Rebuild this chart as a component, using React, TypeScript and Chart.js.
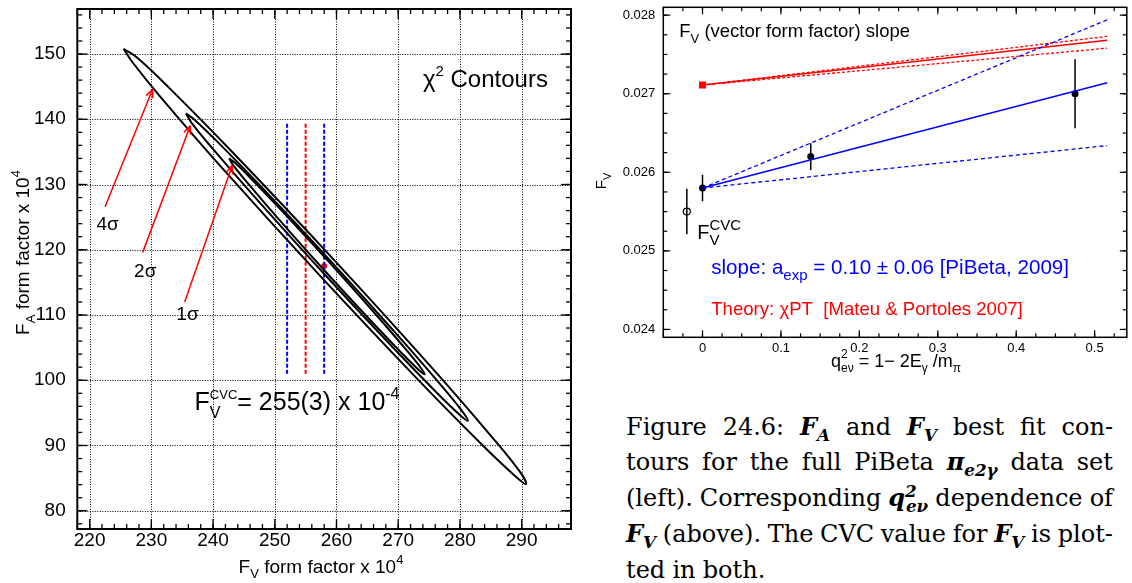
import React, { useEffect, useRef } from "react";
import { Chart, registerables } from "chart.js";
Chart.register(...registerables);

const SANS = '"Liberation Sans", Arial, Helvetica, sans-serif';
const BLUE = "#0000ff";
const RED = "#ff0000";

// ---------------- Left chart: chi^2 contours ----------------
const FV_TICKS = [220, 230, 240, 250, 260, 270, 280, 290];
const FA_TICKS = [80, 90, 100, 110, 120, 130, 140, 150];

// contour outlines [F_V, F_A] (x 10^4)
const CONTOUR_4SIGMA: number[][] = [
  [225.5, 150.8], [227.72, 149.42], [232.97, 144.73], [243.07, 135.02], [259.55, 118.49],
  [275.69, 101.67], [285.13, 91.37], [289.66, 86.06], [290.7, 84.1], [288.88, 85.38],
  [283.63, 90.07], [273.52, 99.78], [257.05, 116.31], [240.9, 133.13], [231.47, 143.43],
  [226.94, 148.74], [225.5, 150.8],
];
const CONTOUR_2SIGMA: number[][] = [
  [235.6, 140.9], [236.99, 139.94], [240.65, 136.61], [247.72, 129.73], [259.25, 118.05],
  [270.57, 106.18], [277.21, 98.93], [280.41, 95.2], [281.3, 93.8], [279.91, 94.76],
  [276.25, 98.09], [269.19, 104.98], [257.65, 116.66], [246.34, 128.53], [239.69, 135.77],
  [236.49, 139.5], [235.6, 140.9],
];
const CONTOUR_1SIGMA: number[][] = [
  [242.6, 134.0], [243.56, 133.32], [246.09, 130.97], [251.0, 126.13], [258.99, 117.92],
  [266.84, 109.58], [271.45, 104.49], [273.68, 101.88], [274.3, 100.9], [273.34, 101.58],
  [270.81, 103.93], [265.91, 108.77], [257.91, 116.98], [250.06, 125.32], [245.45, 130.41],
  [243.22, 133.02], [242.6, 134.0],
];
const BEST_FIT = [258.0, 117.5];
const CVC_FV = [252, 255, 258]; // lower, central, upper
const CVC_FA_SPAN = [101, 139.3];
const ARROW_TAILS = [[222.5, 126.6], [228.6, 119.6], [235.4, 112.0]];
const ARROW_HEADS = [[230.2, 144.6], [236.3, 139.0], [243.1, 132.9]];
const ARROW_LABELS = ["4σ", "2σ", "1σ"];

// ---------------- Right chart: F_V slope ----------------
const Q2_TICKS = [0, 0.1, 0.2, 0.3, 0.4, 0.5];
const FVR_TICKS = [0.024, 0.025, 0.026, 0.027, 0.028];
const Q2_DATA = [0, 0.138, 0.475];
const FV_DATA = [0.0258, 0.0262, 0.027];
const FV_ERR = [0.00017, 0.00017, 0.00044];
const CVC_Q2 = [-0.02];
const CVC_VAL = [0.0255];
const CVC_ERR = [0.00029];
const THEORY_Q2 = [0];
const THEORY_VAL = [0.02711];
const FIT_Q2 = [0, 0.516];
const FIT_CENTRAL = [0.0258, 0.02714];
const FIT_UPPER = [0.0258, 0.02794];
const FIT_LOWER = [0.0258, 0.02634];
const TH_CENTRAL = [0.02711, 0.02768];
const TH_UPPER = [0.02711, 0.02773];
const TH_LOWER = [0.02711, 0.02758];

// ---------------- helpers ----------------
type Seg = { t?: string; sub?: string; sup?: string; ss?: number; ps?: number };

function drawRich(ctx: any, segs: Seg[], x: number, y: number, size: number, color: string, align: "left" | "center" = "left") {
  const f = (s: number) => `${s}px ${SANS}`;
  const dims = segs.map((sg) => {
    ctx.font = f(size);
    const wt = sg.t ? ctx.measureText(sg.t).width : 0;
    const ss = sg.ss ?? size * 0.65;
    const ps = sg.ps ?? size * 0.65;
    ctx.font = f(ss);
    const wsub = sg.sub ? ctx.measureText(sg.sub).width : 0;
    ctx.font = f(ps);
    const wsup = sg.sup ? ctx.measureText(sg.sup).width : 0;
    return { wt, w: wt + Math.max(wsub, wsup), ss, ps };
  });
  const total = dims.reduce((a, d) => a + d.w, 0);
  let cx = align === "center" ? x - total / 2 : x;
  ctx.fillStyle = color;
  ctx.textAlign = "left";
  ctx.textBaseline = "alphabetic";
  segs.forEach((sg, i) => {
    const d = dims[i];
    if (sg.t) { ctx.font = f(size); ctx.fillText(sg.t, cx, y); }
    if (sg.sub) { ctx.font = f(d.ss); ctx.fillText(sg.sub, cx + d.wt, y + size * 0.3); }
    if (sg.sup) { ctx.font = f(d.ps); ctx.fillText(sg.sup, cx + d.wt, y - size * 0.47); }
    cx += d.w;
  });
}

function minorValues(min: number, max: number, step: number) {
  const out: number[] = [];
  for (let i = Math.ceil(min / step - 1e-9); i <= Math.floor(max / step + 1e-9); i++) out.push(i * step);
  return out;
}

function framePlugin(o: { frame: number; major: number; minor: number; xStep: number; yStep: number; grid: boolean; tickW: number }) {
  return {
    id: "frame",
    beforeDatasetsDraw(chart: any) {
      if (!o.grid) return;
      const { ctx, chartArea: a } = chart;
      const xs = chart.scales.x, ys = chart.scales.y;
      ctx.save();
      ctx.strokeStyle = "#000";
      ctx.lineWidth = 1;
      ctx.setLineDash([1, 1.5]);
      for (const t of xs.ticks) {
        const px = Math.round(xs.getPixelForValue(t.value)) + 0.5;
        ctx.beginPath(); ctx.moveTo(px, a.top); ctx.lineTo(px, a.bottom); ctx.stroke();
      }
      for (const t of ys.ticks) {
        const py = Math.round(ys.getPixelForValue(t.value)) + 0.5;
        ctx.beginPath(); ctx.moveTo(a.left, py); ctx.lineTo(a.right, py); ctx.stroke();
      }
      ctx.restore();
    },
    afterDatasetsDraw(chart: any) {
      const { ctx, chartArea: a } = chart;
      const xs = chart.scales.x, ys = chart.scales.y;
      ctx.save();
      ctx.strokeStyle = "#000";
      ctx.setLineDash([]);
      ctx.lineWidth = o.tickW;
      const seg = (x1: number, y1: number, x2: number, y2: number) => {
        ctx.beginPath(); ctx.moveTo(x1, y1); ctx.lineTo(x2, y2); ctx.stroke();
      };
      const tx = (v: number, len: number) => {
        const p = xs.getPixelForValue(v);
        seg(p, a.bottom, p, a.bottom - len);
        seg(p, a.top, p, a.top + len);
      };
      const ty = (v: number, len: number) => {
        const p = ys.getPixelForValue(v);
        seg(a.left, p, a.left + len, p);
        seg(a.right, p, a.right - len, p);
      };
      minorValues(xs.min, xs.max, o.xStep).forEach((v) => tx(v, o.minor));
      xs.ticks.forEach((t: any) => tx(t.value, o.major));
      minorValues(ys.min, ys.max, o.yStep).forEach((v) => ty(v, o.minor));
      ys.ticks.forEach((t: any) => ty(t.value, o.major));
      ctx.lineWidth = o.frame;
      ctx.strokeRect(a.left, a.top, a.right - a.left, a.bottom - a.top);
      ctx.restore();
    },
  };
}

const noPad = (s: any) => { s.paddingTop = 0; s.paddingBottom = 0; s.paddingLeft = 0; s.paddingRight = 0; };
const pts = (xs: number[], ys: number[]) => xs.map((x, i) => ({ x, y: ys[i] }));
const pairs = (arr: number[][]) => arr.map(([x, y]) => ({ x, y }));

function leftConfig(): any {
  const contour = (d: number[][]) => ({
    data: pairs(d), showLine: true, borderColor: "#000", borderWidth: 2, pointRadius: 0, tension: 0.4, fill: false,
  });
  const vline = (x: number, color: string) => ({
    data: [{ x, y: CVC_FA_SPAN[0] }, { x, y: CVC_FA_SPAN[1] }],
    showLine: true, borderColor: color, borderWidth: 2, borderDash: [4, 2], pointRadius: 0,
  });
  const annotations = {
    id: "leftText",
    afterDraw(chart: any) {
      const { ctx } = chart;
      const xs = chart.scales.x, ys = chart.scales.y;
      const X = (v: number) => xs.getPixelForValue(v);
      const Y = (v: number) => ys.getPixelForValue(v);
      ctx.save();
      ctx.strokeStyle = RED;
      ctx.lineWidth = 1.5;
      ARROW_TAILS.forEach((tail, i) => {
        const x1 = X(tail[0]), y1 = Y(tail[1]);
        const x2 = X(ARROW_HEADS[i][0]), y2 = Y(ARROW_HEADS[i][1]);
        ctx.beginPath(); ctx.moveTo(x1, y1); ctx.lineTo(x2, y2); ctx.stroke();
        const ang = Math.atan2(y2 - y1, x2 - x1);
        [0.4, -0.4].forEach((da) => {
          ctx.beginPath();
          ctx.moveTo(x2, y2);
          ctx.lineTo(x2 - 9 * Math.cos(ang + da), y2 - 9 * Math.sin(ang + da));
          ctx.stroke();
        });
      });
      const labelPos = [[221.1, 123.0], [227.2, 115.9], [234.05, 109.2]];
      ARROW_LABELS.forEach((l, i) => drawRich(ctx, [{ t: l }], X(labelPos[i][0]), Y(labelPos[i][1]), 19, "#000"));
      drawRich(ctx, [{ t: "χ", sup: "2", ps: 15 }, { t: " Contours" }], X(274.0), Y(144.9), 24, "#000");
      drawRich(ctx, [{ t: "F", sub: "V", sup: "CVC", ss: 16, ps: 13 }, { t: "= 255(3) x 10", sup: "-4", ps: 16 }], X(237.0), Y(95.4), 25, "#000");
      drawRich(ctx, [{ t: "F", sub: "V", ss: 13 }, { t: " form factor x 10", sup: "4", ps: 13 }], 321, 572.7, 19, "#000", "center");
      ctx.translate(28.8, 252.5);
      ctx.rotate(-Math.PI / 2);
      drawRich(ctx, [{ t: "F", sub: "A", ss: 13 }, { t: " form factor x 10", sup: "4", ps: 13 }], 0, 0, 19, "#000", "center");
      ctx.restore();
    },
  };
  return {
    type: "scatter",
    data: {
      datasets: [
        contour(CONTOUR_4SIGMA),
        contour(CONTOUR_2SIGMA),
        contour(CONTOUR_1SIGMA),
        vline(CVC_FV[0], BLUE),
        vline(CVC_FV[1], RED),
        vline(CVC_FV[2], BLUE),
        { data: [{ x: BEST_FIT[0], y: BEST_FIT[1] }], pointRadius: 3, backgroundColor: RED, borderColor: RED, borderWidth: 0 },
      ],
    },
    options: {
      responsive: false,
      animation: false,
      devicePixelRatio: 1,
      layout: { padding: { left: 0, right: 19, top: 9, bottom: 0 } },
      plugins: { legend: { display: false }, tooltip: { enabled: false } },
      scales: {
        x: {
          type: "linear", min: 218, max: 298,
          afterBuildTicks: (s: any) => { s.ticks = FV_TICKS.map((v) => ({ value: v })); },
          afterFit: (s: any) => { s.height = 54; noPad(s); },
          grid: { display: false, drawTicks: false }, border: { display: false },
          ticks: { color: "#000", font: { family: SANS, size: 19 }, padding: 0, autoSkip: false, maxRotation: 0, callback: (v: any) => String(v) },
        },
        y: {
          type: "linear", min: 77.2, max: 156.9,
          afterBuildTicks: (s: any) => { s.ticks = FA_TICKS.map((v) => ({ value: v })); },
          afterFit: (s: any) => { s.width = 77.3; noPad(s); },
          grid: { display: false, drawTicks: false }, border: { display: false },
          ticks: { color: "#000", font: { family: SANS, size: 19 }, padding: 11.6, autoSkip: false, callback: (v: any) => String(v) },
        },
      },
    },
    plugins: [framePlugin({ frame: 2, major: 10, minor: 5, xStep: 2, yStep: 2, grid: true, tickW: 1.3 }), annotations],
  };
}

function rightConfig(): any {
  const line = (ys: number[], color: string, dash: number[], w: number) => ({
    data: pts(FIT_Q2, ys), showLine: true, borderColor: color, borderWidth: w, borderDash: dash, pointRadius: 0,
  });
  const errBar = (x: number, y: number, e: number) => ({
    data: [{ x, y: y - e }, { x, y: y + e }], showLine: true, borderColor: "#000", borderWidth: 1.5, pointRadius: 0,
  });
  const annotations = {
    id: "rightText",
    afterDraw(chart: any) {
      const { ctx } = chart;
      const xs = chart.scales.x, ys = chart.scales.y;
      const X = (v: number) => xs.getPixelForValue(v);
      const Y = (v: number) => ys.getPixelForValue(v);
      ctx.save();
      drawRich(ctx, [{ t: "F", sub: "V", ss: 13 }, { t: " (vector form factor) slope" }], X(-0.0296), Y(0.027716), 18.5, "#000");
      drawRich(ctx, [{ t: "F", sub: "V", sup: "CVC", ss: 15, ps: 15 }], X(-0.0068), Y(0.025152), 20, "#000");
      drawRich(ctx, [{ t: "slope: a", sub: "exp", ss: 15 }, { t: " = 0.10 ± 0.06 [PiBeta, 2009]" }], X(0.0111), Y(0.02471), 20.6, BLUE);
      drawRich(ctx, [{ t: "Theory: χPT  [Mateu & Portoles 2007]" }], X(0.0111), Y(0.024187), 18.6, RED);
      drawRich(ctx, [{ t: "q", sup: "2", sub: "eν", ss: 12, ps: 12 }, { t: " = 1− 2E", sub: "γ", ss: 12 }, { t: " /m", sub: "π", ss: 12 }], 306, 366.7, 18, "#000", "center");
      ctx.translate(16.4, 181);
      ctx.rotate(-Math.PI / 2);
      drawRich(ctx, [{ t: "F", sub: "V", ss: 11 }], 0, 0, 15, "#000", "center");
      ctx.restore();
    },
  };
  return {
    type: "scatter",
    data: {
      datasets: [
        line(FIT_UPPER, BLUE, [4, 3], 1.3),
        line(FIT_LOWER, BLUE, [4, 3], 1.3),
        line(FIT_CENTRAL, BLUE, [], 1.5),
        line(TH_UPPER, RED, [3, 2], 1.3),
        line(TH_LOWER, RED, [3, 2], 1.3),
        line(TH_CENTRAL, RED, [], 1.5),
        ...Q2_DATA.map((q, i) => errBar(q, FV_DATA[i], FV_ERR[i])),
        ...CVC_Q2.map((q, i) => errBar(q, CVC_VAL[i], CVC_ERR[i])),
        { data: pts(Q2_DATA, FV_DATA), pointRadius: 3.5, backgroundColor: "#000", borderColor: "#000", borderWidth: 0 },
        { data: pts(CVC_Q2, CVC_VAL), pointRadius: 3.5, backgroundColor: "#fff", borderColor: "#000", borderWidth: 1.2 },
        { data: pts(THEORY_Q2, THEORY_VAL), pointStyle: "rect", pointRadius: 5, backgroundColor: RED, borderColor: RED, borderWidth: 0 },
      ],
    },
    options: {
      responsive: false,
      animation: false,
      devicePixelRatio: 1,
      layout: { padding: { left: 0, right: 3, top: 7.3, bottom: 0 } },
      plugins: { legend: { display: false }, tooltip: { enabled: false } },
      scales: {
        x: {
          type: "linear", min: -0.05, max: 0.541,
          afterBuildTicks: (s: any) => { s.ticks = Q2_TICKS.map((v) => ({ value: v })); },
          afterFit: (s: any) => { s.height = 52.7; noPad(s); },
          grid: { display: false, drawTicks: false }, border: { display: false },
          ticks: { color: "#000", font: { family: SANS, size: 13 }, padding: 3, autoSkip: false, maxRotation: 0, callback: (v: any) => String(Number(v)) },
        },
        y: {
          type: "linear", min: 0.0239, max: 0.0281,
          afterBuildTicks: (s: any) => { s.ticks = FVR_TICKS.map((v) => ({ value: v })); },
          afterFit: (s: any) => { s.width = 73.3; noPad(s); },
          grid: { display: false, drawTicks: false }, border: { display: false },
          ticks: { color: "#000", font: { family: SANS, size: 13 }, padding: 8, autoSkip: false, callback: (v: any) => Number(v).toFixed(3) },
        },
      },
    },
    plugins: [framePlugin({ frame: 1.5, major: 7, minor: 4, xStep: 0.025, yStep: 0.00025, grid: false, tickW: 1.2 }), annotations],
  };
}

function ChartCanvas({ left, top, width, height, make }: { left: number; top: number; width: number; height: number; make: () => any }) {
  const ref = useRef<HTMLCanvasElement>(null);
  useEffect(() => {
    const chart = new Chart(ref.current as HTMLCanvasElement, make());
    return () => chart.destroy();
  }, []);
  return <canvas ref={ref} width={width} height={height} style={{ position: "absolute", left, top, width, height }} />;
}

const BI = ({ children }: { children: any }) => <span style={{ fontWeight: "bold", fontStyle: "italic" }}>{children}</span>;
const Sub = ({ children }: { children: any }) => (
  <span style={{ fontSize: "0.7em", position: "relative", top: "0.35em", lineHeight: 0 }}>{children}</span>
);
const Sup = ({ children }: { children: any }) => (
  <span style={{ fontSize: "0.7em", position: "relative", top: "-0.55em", lineHeight: 0 }}>{children}</span>
);

function JLine({ words, top, last }: { words: any[]; top: number; last?: boolean }) {
  return (
    <div
      style={{
        position: "absolute", left: 0, top, width: 487, height: 36, display: "flex", alignItems: "baseline",
        justifyContent: last ? "flex-start" : "space-between", columnGap: last ? "0.3em" : 0, whiteSpace: "nowrap", lineHeight: "36px",
      }}
    >
      {words.map((w, i) => <span key={i}>{w}</span>)}
    </div>
  );
}

function Caption() {
  const FA = <BI>F<Sub>A</Sub></BI>;
  const FV = <BI>F<Sub>V</Sub></BI>;
  const q2 = (
    <BI>
      q<Sup>2</Sup>
      <span style={{ fontSize: "0.7em", position: "relative", top: "0.35em", lineHeight: 0, marginLeft: "-0.65em" }}>eν</span>
    </BI>
  );
  const step = 35.8;
  return (
    <div style={{ position: "absolute", left: 626, top: 408.7, width: 487, height: 180, fontFamily: '"DejaVu Serif", serif', fontSize: 24, color: "#000" }}>
      <JLine top={0} words={["Figure", "24.6:", FA, "and", FV, "best", "fit", "con-"]} />
      <JLine top={step} words={["tours", "for", "the", "full", "PiBeta", <BI>π<Sub>e2γ</Sub></BI>, "data", "set"]} />
      <JLine top={step * 2} words={["(left).", "Corresponding", q2, "dependence", "of"]} />
      <JLine top={step * 3} words={[FV, "(above).", "The", "CVC", "value", "for", FV, "is", "plot-"]} />
      <JLine top={step * 4} last words={["ted", "in", "both."]} />
    </div>
  );
}

export default function App() {
  return (
    <div style={{ position: "absolute", left: 0, top: 0, width: 1132, height: 583, overflow: "hidden", background: "#fff" }}>
      <ChartCanvas left={0} top={0} width={590} height={583} make={leftConfig} />
      <ChartCanvas left={590} top={0} width={542} height={390} make={rightConfig} />
      <Caption />
    </div>
  );
}
